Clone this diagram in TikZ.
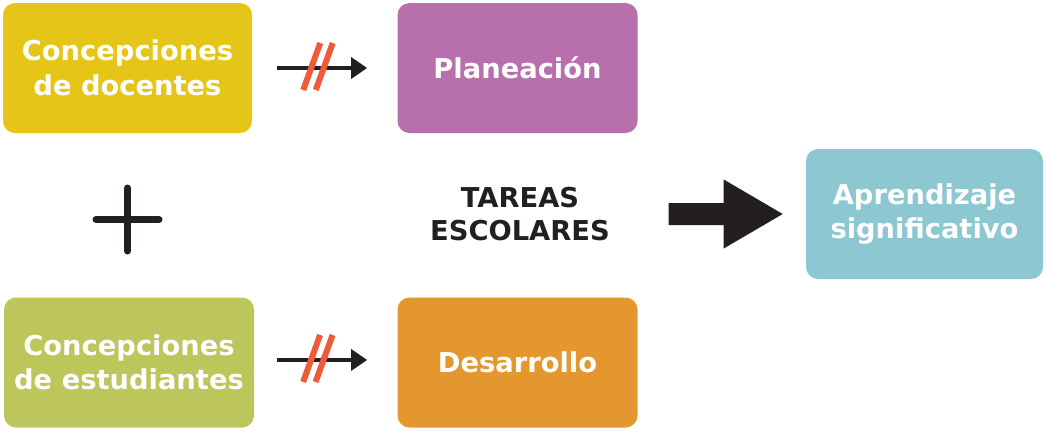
\documentclass[tikz,border=0pt]{standalone}
\usepackage{fontspec}
\setmainfont{DejaVu Sans}
\usepackage{tikz}
\usetikzlibrary{arrows.meta,positioning,calc}
\usepackage{xcolor}
\definecolor{amarillo}{HTML}{E5C517}
\definecolor{morado}{HTML}{B870AC}
\definecolor{verde}{HTML}{BDC65A}
\definecolor{naranja}{HTML}{E4962F}
\definecolor{turquesa}{HTML}{8CC7D2}
\definecolor{oscuro}{HTML}{231F20}
\definecolor{tachado}{HTML}{EE5B3A}

\begin{document}
\begin{tikzpicture}[
    x=0.75pt, y=-0.75pt,
    every node/.style={inner sep=0pt, align=center, font=\bfseries\fontsize{20.5}{25.9}\selectfont},
    caja/.style={rounded corners=9pt, text=white, minimum height=97.5pt},
    flecha/.style={draw=oscuro, line width=3pt, -{Triangle[length=12pt,width=15.5pt]}},
    tacha/.style={draw=tachado, line width=4.5pt},
    mas/.style={draw=oscuro, line width=5.25pt, line cap=round}
]
\useasboundingbox (0,0) rectangle (1047,430);

\node[caja, fill=amarillo, minimum width=186.75pt] (doc) at (127.5,68) {Concepciones\\de docentes};
\node[caja, fill=morado, minimum width=180pt] (plan) at (517.5,68) {Planeación};
\node[caja, fill=verde, minimum width=187.5pt] (est) at (129,362.5) {Concepciones\\de estudiantes};
\node[caja, fill=naranja, minimum width=180pt] (des) at (517.5,362.5) {Desarrollo};
\node[caja, fill=turquesa, minimum width=177.75pt] (apr) at (924.5,214) {Aprendizaje\\significativo};
\node[text=oscuro, font=\bfseries\fontsize{20.5}{24.75}\selectfont] (tareas) at (520,214) {TAREAS\\ESCOLARES};

% flechas tachadas
\draw[flecha] ([xshift=18.75pt]doc.east) -- coordinate (m1) ([xshift=-22.5pt]plan.west);
\draw[tacha] ($(m1)+(-19,22)$) -- ++(17,-47);
\draw[tacha] ($(m1)+(-6.5,22)$) -- ++(17,-47);
\draw[flecha] ([xshift=17pt,yshift=1.9pt]est.east) -- coordinate (m2) ([xshift=-22.5pt,yshift=1.9pt]des.west);
\draw[tacha] ($(m2)+(-19,22)$) -- ++(17,-47);
\draw[tacha] ($(m2)+(-6.5,22)$) -- ++(17,-47);

\draw[mas] (96,219.5) -- (159,219.5) (127.5,188) -- (127.5,251);

\coordinate (punta) at ([xshift=-17.25pt]apr.west);
\fill[oscuro] (punta) -- ++(-59,-34.5) -- ++(0,23.5) -- ++(-55,0) -- ++(0,22) -- ++(55,0) -- ++(0,23.5) -- cycle;

\end{tikzpicture}
\end{document}
